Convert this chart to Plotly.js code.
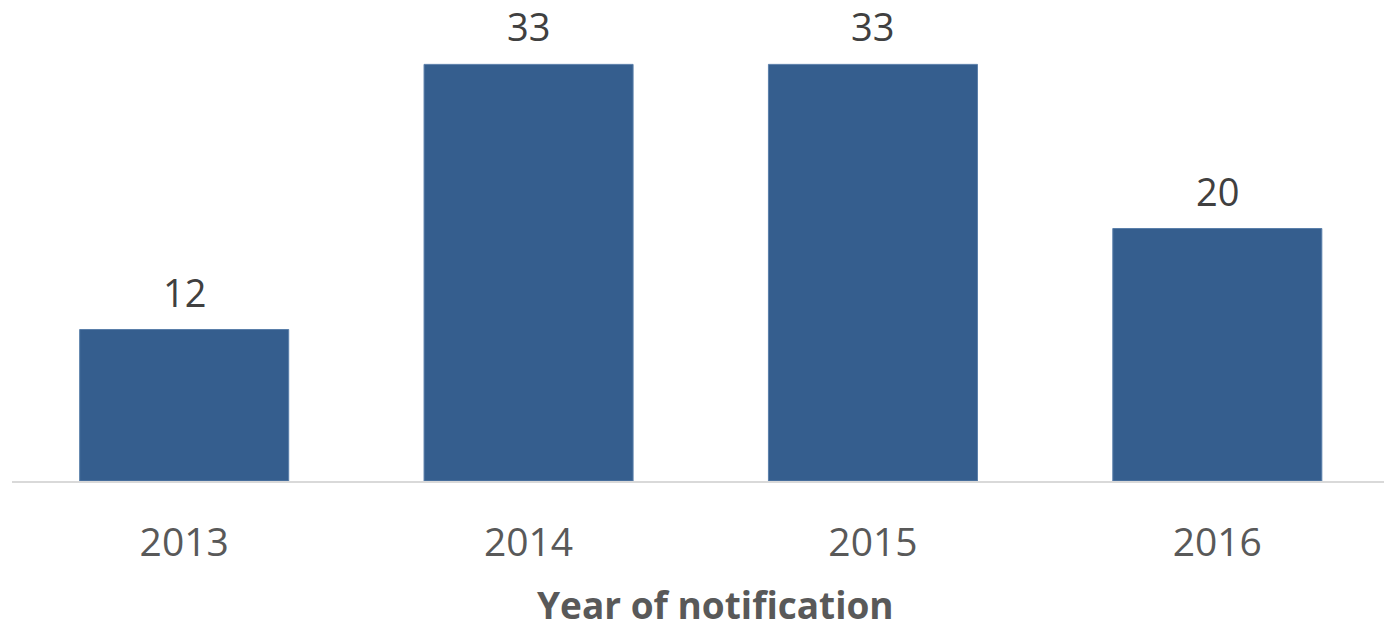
<!DOCTYPE html>
<html>
<head>
<meta charset="utf-8">
<script src="https://cdn.plot.ly/plotly-3.0.1.min.js"></script>
<style>html,body{margin:0;padding:0;background:#fff;}#chart{width:1384px;height:630px;}</style>
</head>
<body>
<div id="chart"></div>
<script>
const years = ["2013", "2014", "2015", "2016"];
const counts = [12, 33, 33, 20];
const xTitle = "Year of notification";

const trace = {
  type: "bar",
  x: years,
  y: counts,
  marker: {color: "#355E8E", line: {color: "#5A7FAA", width: 1}},
  hoverinfo: "none"
};

const labels = years.map((yr, i) => ({
  x: i, y: counts[i], xref: "x", yref: "y",
  text: String(counts[i]), showarrow: false,
  yanchor: "bottom", yshift: 10,
  font: {family: "Open Sans, sans-serif", size: 38, color: "#404040"}
}));

labels.push({
  x: 0.513, y: 0, xref: "paper", yref: "paper",
  xanchor: "center", yanchor: "top", yshift: -96,
  text: "<b>" + xTitle + "</b>", showarrow: false,
  font: {family: "Open Sans, sans-serif", size: 37, color: "#595959"}
});

const layout = {
  width: 1384, height: 630,
  margin: {l: 12, r: 0, t: 0, b: 149},
  paper_bgcolor: "#fff", plot_bgcolor: "#fff",
  bargap: 0.393,
  showlegend: false,
  annotations: labels,
  xaxis: {
    type: "category",
    range: [-0.5, 3.484],
    showline: true, linecolor: "#D9D9D9", linewidth: 1.5,
    ticks: "", showgrid: false, zeroline: false,
    tickfont: {family: "Open Sans, sans-serif", size: 39, color: "#595959"},
    ticklabelstandoff: 27
  },
  yaxis: {
    range: [0, 38.1],
    visible: false, showgrid: false, zeroline: false
  }
};

Plotly.newPlot("chart", [trace], layout, {staticPlot: true, displayModeBar: false});
</script>
</body>
</html>
